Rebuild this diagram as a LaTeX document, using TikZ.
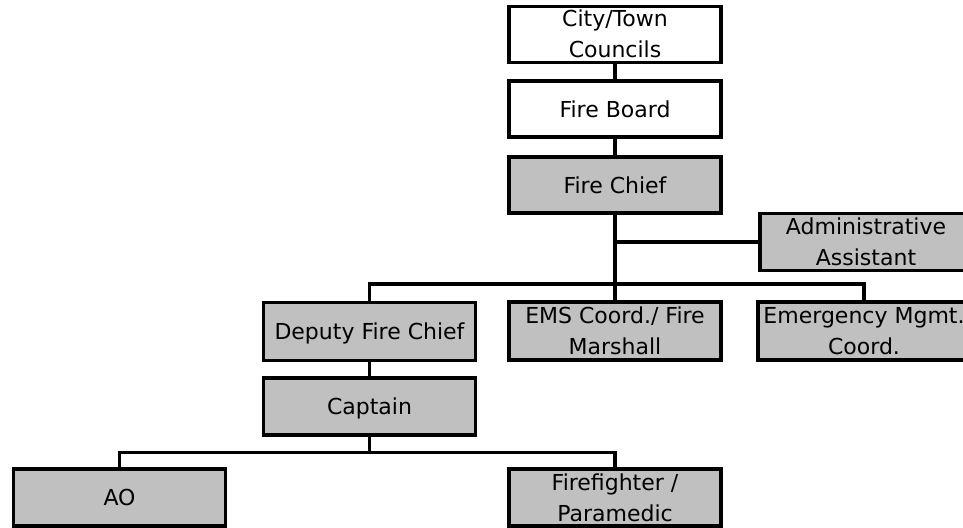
\documentclass[tikz,border=0pt]{standalone}
\usepackage{fontspec}
\setmainfont{DejaVu Sans}
\definecolor{boxgray}{RGB}{192,192,192}
\tikzset{
  orgbox/.style={draw=black, line width=3.2pt, fill=boxgray, minimum width=212pt,
    inner sep=0pt, align=center, font=\fontsize{22}{31}\selectfont,
    text height=16pt, text depth=0pt},
  twoline/.style={text height=47pt},
  whitebox/.style={orgbox, fill=white},
  link/.style={draw=black, line width=3.2pt}
}
\begin{document}
\begin{tikzpicture}[x=1pt,y=-1pt]
\path[use as bounding box, clip] (0,0) rectangle (963,527);
\node[whitebox, twoline, minimum height=56pt] (city) at (615,34.5) {City/Town\\Councils};
\node[whitebox, minimum height=56pt] (board) at (615,109) {Fire Board};
\node[orgbox, minimum height=56pt] (chief) at (615,185) {Fire Chief};
\node[orgbox, twoline, minimum height=57pt] (admin) at (866,242) {Administrative\\Assistant};
\node[orgbox, minimum height=58pt] (deputy) at (369.5,331.5) {Deputy Fire Chief};
\node[orgbox, twoline, minimum height=58pt] (ems) at (615,331) {EMS Coord./ Fire\\Marshall};
\node[orgbox, twoline, minimum height=58pt] (emerg) at (864,331) {Emergency Mgmt.\\Coord.};
\node[orgbox, minimum height=57pt] (captain) at (369.5,406.5) {Captain};
\node[orgbox, minimum height=57pt] (ao) at (119.5,497.5) {AO};
\node[orgbox, twoline, minimum height=57pt] (ff) at (615,497.5) {Firefighter /\\Paramedic};
\coordinate (bus) at (615,284);
\coordinate (cbus) at (369.5,452.5);
\draw[link] (city.south) -- (board.north);
\draw[link] (board.south) -- (chief.north);
\draw[link] (chief.south) -- (ems.north);
\draw[link] (admin.west) -- (admin.west -| chief.south);
\draw[link] (deputy.north) |- (bus) -| (emerg.north);
\draw[link] (deputy.south) -- (captain.north);
\draw[link] (captain.south) -- (cbus);
\draw[link] (ao.north) |- (cbus) -| (ff.north);
\end{tikzpicture}
\end{document}
